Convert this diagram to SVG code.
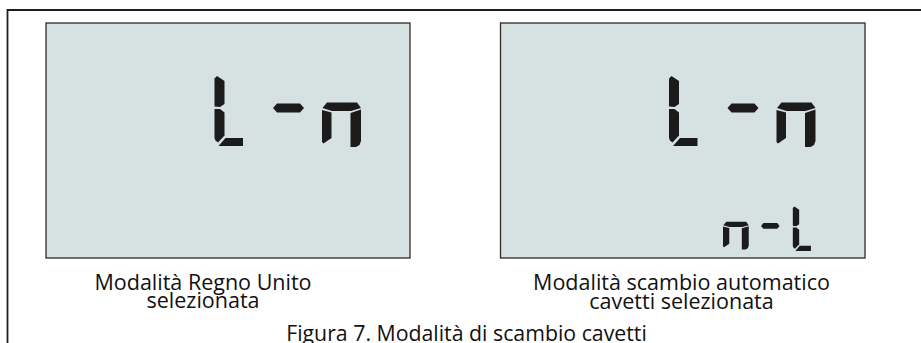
<svg xmlns="http://www.w3.org/2000/svg" xmlns:xlink="http://www.w3.org/1999/xlink" width="921" height="343" viewBox="0 0 921 343">
<style>
.frame{fill:none;stroke:#1e1e1e;stroke-width:1.8}
.lcd{fill:#d6e1e1;stroke:#2a2a2a;stroke-width:1.3}
.seg{fill:#1b1b1b}
.lbl{font-family:"Open Sans","Liberation Sans",sans-serif;font-size:21.5px;fill:#111;text-anchor:middle}
.cap{font-size:21.3px}
</style>
<defs>
<g id="digL">
<polygon class="seg" points="0.5,2.5 3,0 10.5,5 10.5,28 6,31 0.5,30.5"/>
<polygon class="seg" points="0.5,33 6,33 10.5,36.5 10.5,59.5 4,66.5 1.5,64.5 0.5,62"/>
<polygon class="seg" points="4.5,70 11.5,62 29,62 29,70"/>
</g>
<g id="digN">
<polygon class="seg" points="0.5,6 5,0.5 35,0.5 39,6 29,9 10,9"/>
<polygon class="seg" points="0,8 9.5,10.5 9.5,36 1.5,41.5 0,40"/>
<polygon class="seg" points="28.5,11 39,7.5 39,39 37.5,43 34,45 28.5,45"/>
</g>
<polygon id="dash" class="seg" points="0,4.5 4,0 27,0 31,4.5 27,9 4,9"/>
</defs>
<g id="frame">
<path class="frame" d="M7.5,343 V10 H921"/>
</g>
<g id="panel-left">
<rect class="lcd" x="46" y="23" width="364" height="235"/>
<use xlink:href="#digL" transform="translate(214,76)"/>
<use xlink:href="#dash" transform="translate(273,103.5)"/>
<use xlink:href="#digN" transform="translate(322,102)"/>
</g>
<g id="panel-right">
<rect class="lcd" x="500.5" y="23" width="364.5" height="235"/>
<use xlink:href="#digL" transform="translate(668.5,76)"/>
<use xlink:href="#dash" transform="translate(727.5,103.5)"/>
<use xlink:href="#digN" transform="translate(776.5,102)"/>
<use xlink:href="#digN" transform="translate(723,221.5) scale(0.66,0.62)"/>
<use xlink:href="#dash" transform="translate(761,223) scale(0.6,0.65)"/>
<use xlink:href="#digL" transform="translate(792.5,206.5) scale(0.635)"/>
</g>
<g id="label-left">
<text class="lbl" x="203" y="290">Modalità Regno Unito</text>
<text class="lbl" x="203" y="307.5">selezionata</text>
</g>
<g id="label-right">
<text class="lbl" x="681.5" y="290">Modalità scambio automatico</text>
<text class="lbl" x="681.5" y="309">cavetti selezionata</text>
</g>
<g id="caption">
<text class="lbl cap" x="466.5" y="341">Figura 7. Modalità di scambio cavetti</text>
</g>
</svg>
